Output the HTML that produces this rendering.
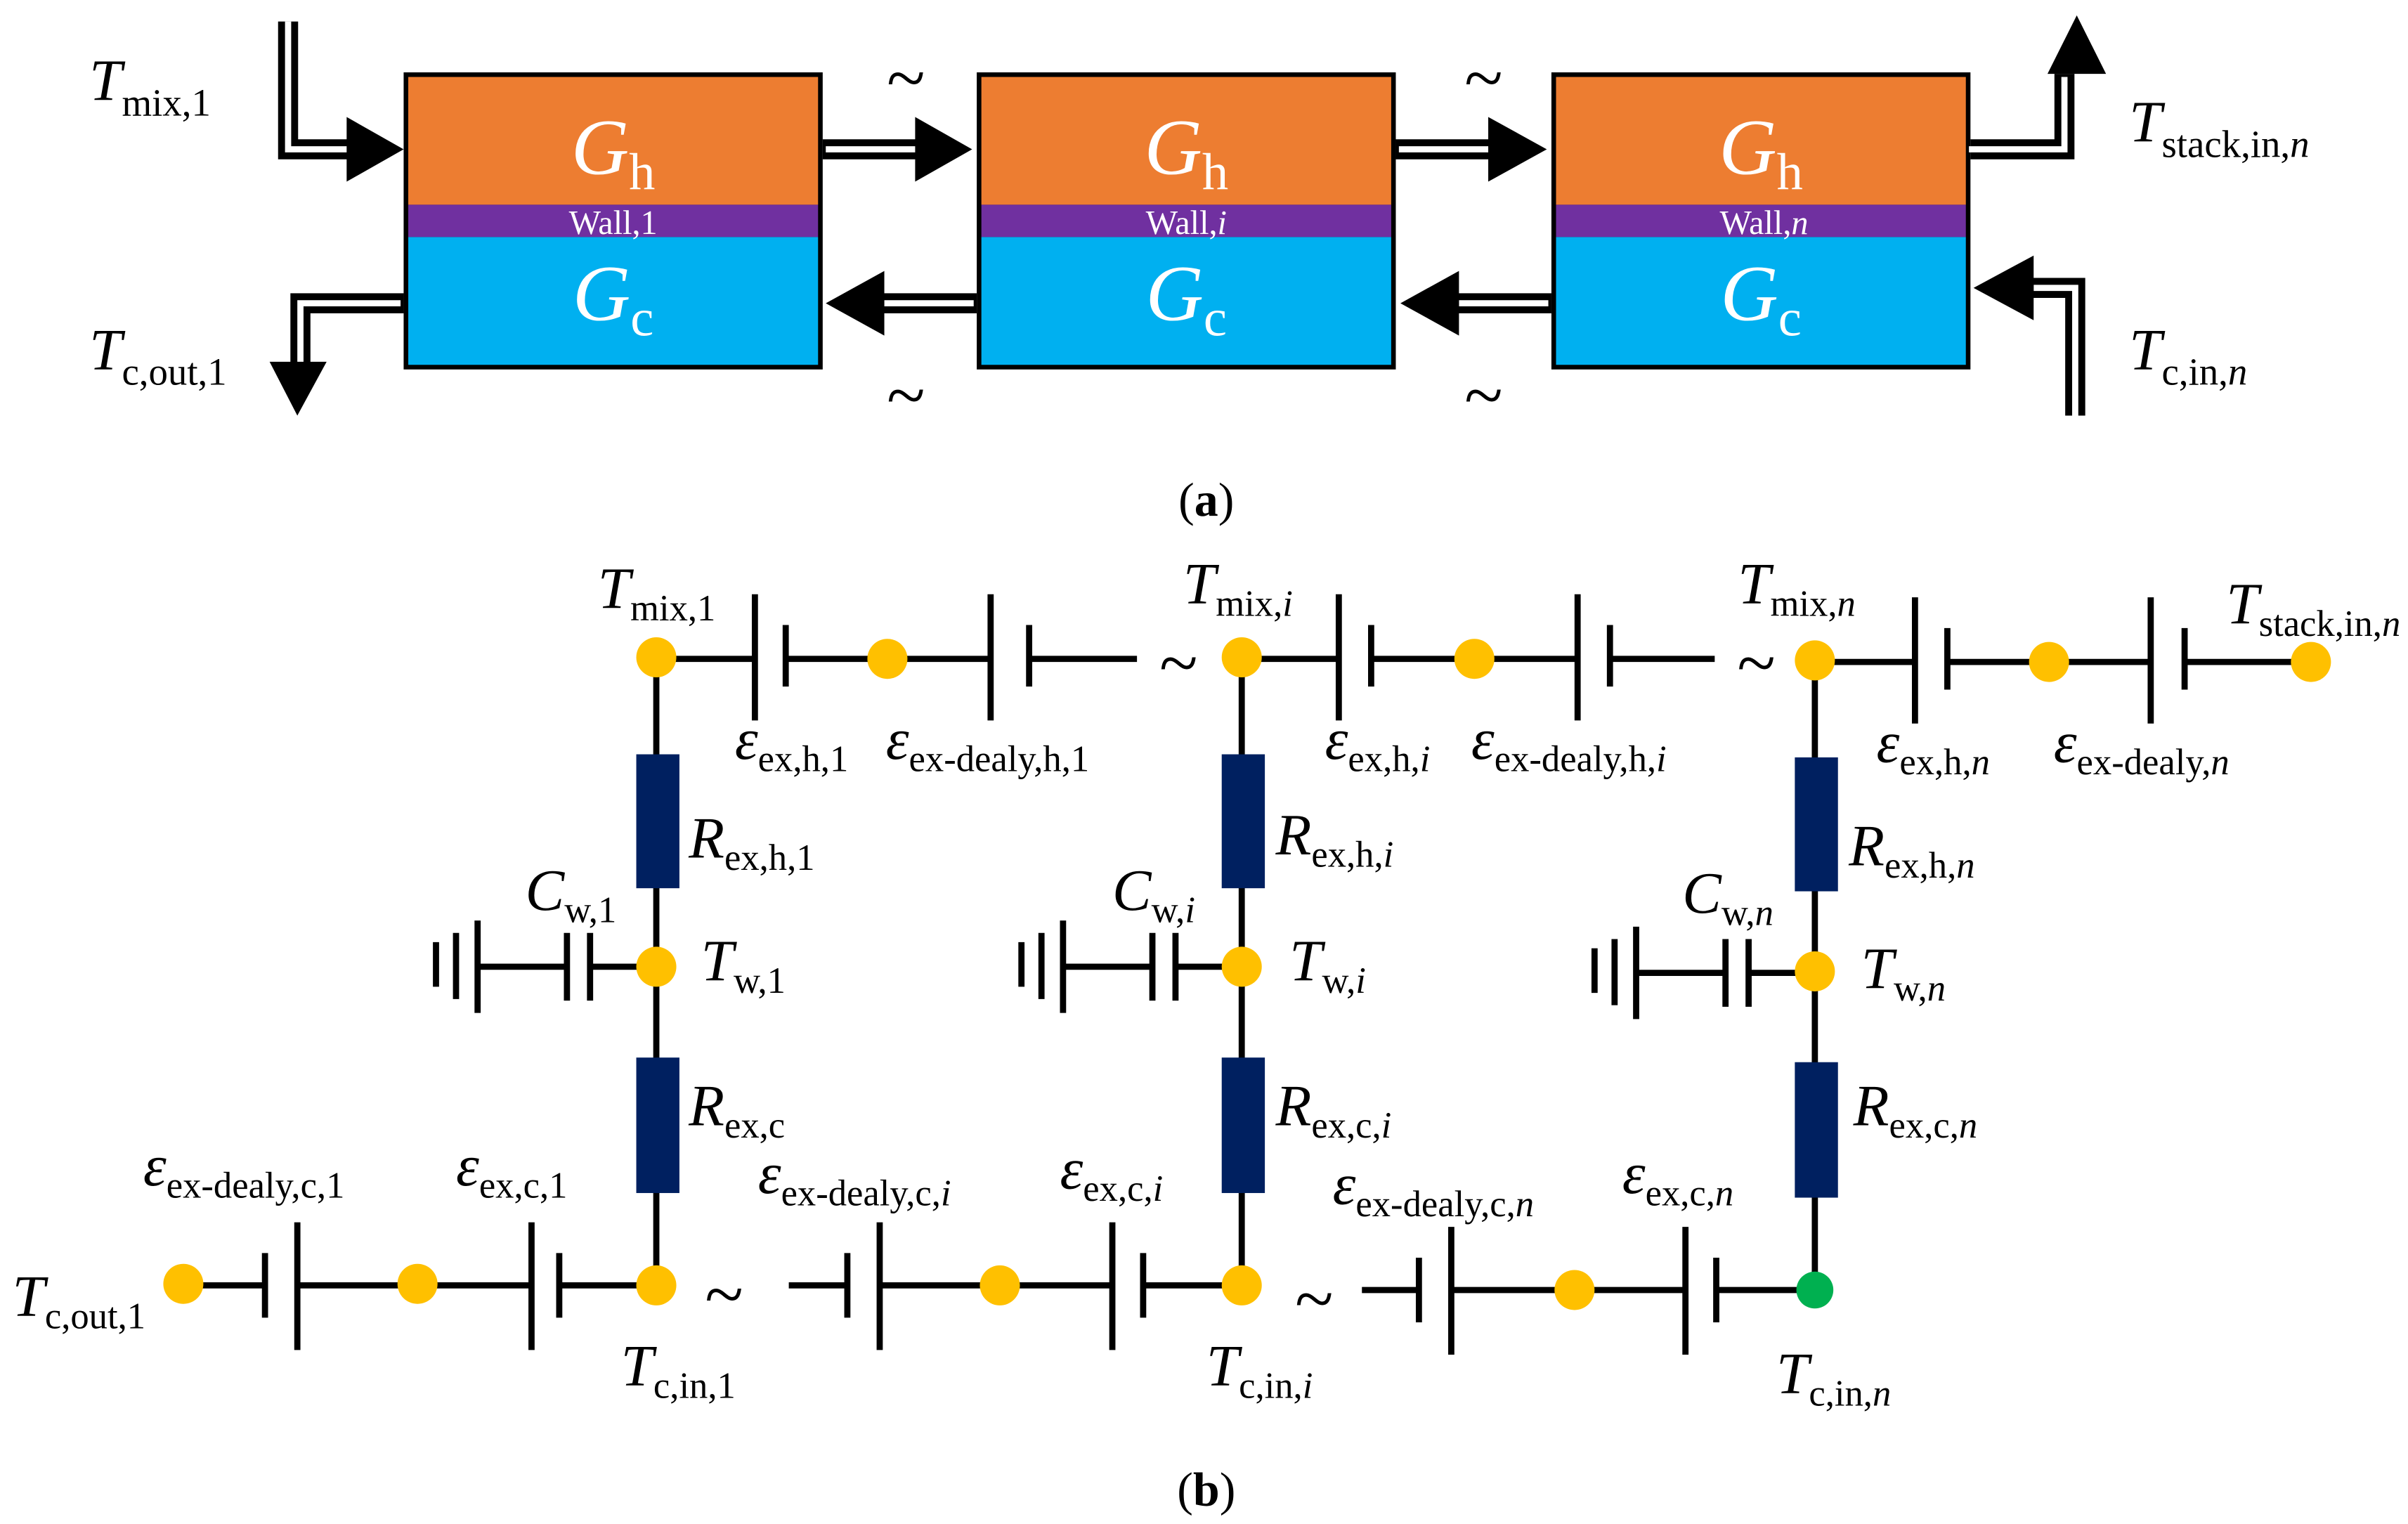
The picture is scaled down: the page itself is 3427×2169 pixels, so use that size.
<!DOCTYPE html>
<html><head><meta charset="utf-8"><style>
html,body{margin:0;padding:0;background:#fff;}
svg{display:block;}
svg text{font-family:"Liberation Serif","Times New Roman",serif;}
</style></head><body>
<svg width="3427" height="2169" viewBox="0 0 1563 990" preserveAspectRatio="none" xmlns="http://www.w3.org/2000/svg" font-family="Liberation Serif, serif">
<defs>
<g id="box">
<rect x="0" y="0" width="272" height="193" fill="#000"/>
<rect x="3" y="3" width="266" height="83" fill="#ED7D31"/>
<rect x="3" y="86" width="266" height="21" fill="#7030A0"/>
<rect x="3" y="107" width="266" height="83" fill="#00B0F0"/>
</g>
</defs>
<use href="#box" x="262" y="47"/>
<use href="#box" x="634" y="47"/>
<use href="#box" x="1007" y="47"/>
<g fill="#fff" font-style="italic" font-size="52" text-anchor="middle">
<text x="398" y="113">G<tspan font-style="normal" font-size="34" dy="10">h</tspan></text>
<text x="770" y="113">G<tspan font-style="normal" font-size="34" dy="10">h</tspan></text>
<text x="1143" y="113">G<tspan font-style="normal" font-size="34" dy="10">h</tspan></text>
<text x="398" y="208">G<tspan font-style="normal" font-size="34" dy="10">c</tspan></text>
<text x="770" y="208">G<tspan font-style="normal" font-size="34" dy="10">c</tspan></text>
<text x="1143" y="208">G<tspan font-style="normal" font-size="34" dy="10">c</tspan></text>
</g>
<g fill="#fff" font-size="22" text-anchor="middle">
<text x="398" y="152">Wall,1</text>
<text x="770" y="152">Wall,<tspan font-style="italic">i</tspan></text>
<text x="1145" y="152">Wall,<tspan font-style="italic">n</tspan></text>
</g>
<g fill="none" stroke-linejoin="miter">
<g stroke="#000" stroke-width="13">
<path d="M187 14 V97 H228"/>
<path d="M534 97 H597"/>
<path d="M906 97 H969"/>
<path d="M1279 97 H1340 V48"/>
<path d="M634 197 H572"/>
<path d="M1007 197 H945"/>
<path d="M262 197 H195 V238"/>
<path d="M1347 270 V187 H1318"/>
</g>
<g stroke="#fff" stroke-width="4">
<path d="M187 14 V97 H226"/>
<path d="M536 97 H595"/>
<path d="M908 97 H967"/>
<path d="M1278 97 H1340 V50"/>
<path d="M632 197 H574"/>
<path d="M1005 197 H947"/>
<path d="M260 197 H195 V236"/>
<path d="M1347 270 V187 H1320"/>
</g>
</g>
<g fill="#000">
<polygon points="225,76 262,97 225,118"/>
<polygon points="594,76 631,97 594,118"/>
<polygon points="966,76 1004,97 966,118"/>
<polygon points="1329,48 1367,48 1348,10"/>
<polygon points="574,176 536,197 574,218"/>
<polygon points="947,176 909,197 947,218"/>
<polygon points="175,235 212,235 193,270"/>
<polygon points="1320,166 1281,187 1320,208"/>
</g>
<g font-size="46" text-anchor="middle">
<text x="588" y="66">~</text><text x="963" y="66">~</text>
<text x="588" y="272">~</text><text x="963" y="272">~</text>
</g>
<g font-size="38" font-style="italic">
<text x="58" y="65">T<tspan font-style="normal" font-size="25" dy="10">mix,1</tspan></text>
<text x="58" y="240">T<tspan font-style="normal" font-size="25" dy="10">c,out,1</tspan></text>
<text x="1382" y="92">T<tspan font-style="normal" font-size="25" dy="10">stack,in,</tspan><tspan font-size="25">n</tspan></text>
<text x="1382" y="240">T<tspan font-style="normal" font-size="25" dy="10">c,in,</tspan><tspan font-size="25">n</tspan></text>
</g>
<text x="783" y="335" font-size="31" text-anchor="middle">(<tspan font-weight="bold">a</tspan>)</text>
<text x="783" y="978" font-size="31" text-anchor="middle">(<tspan font-weight="bold">b</tspan>)</text>

<g stroke="#000" stroke-width="4" fill="none">
<path d="M426 428 H490 M510 428 H643 M668 428 H738"/>
<path d="M806 428 H869 M890 428 H1024 M1045 428 H1113"/>
<path d="M1178 430 H1243 M1264 430 H1396 M1418 430 H1500"/>
<path d="M490 386 V468 M510 406 V446 M643 386 V468 M668 406 V446"/>
<path d="M869 386 V468 M890 406 V446 M1024 386 V468 M1045 406 V446"/>
<path d="M1243 388 V470 M1264 408 V448 M1396 388 V470 M1418 408 V448"/>
<path d="M426 428 V835 M806 428 V835 M1178 430 V838"/>
<path d="M310 628 H368 M383 628 H426 M368 606 V650 M383 606 V650 M310 598 V658 M296 606 V649 M283 612 V641"/>
<path d="M690 628 H748 M763 628 H806 M748 606 V650 M763 606 V650 M690 598 V658 M676 606 V649 M663 612 V641"/>
<path d="M1062 632 H1120 M1135 632 H1178 M1120 610 V654 M1135 610 V654 M1062 602 V662 M1048 610 V653 M1035 616 V645"/>
<path d="M119 835 H172 M193 835 H345 M363 835 H426"/>
<path d="M172 814 V856 M193 794 V877 M345 794 V877 M363 814 V856"/>
<path d="M512 835 H550 M571 835 H722 M742 835 H806"/>
<path d="M550 814 V856 M571 794 V877 M722 794 V877 M742 814 V856"/>
<path d="M884 838 H921 M942 838 H1094 M1114 838 H1178"/>
<path d="M921 817 V859 M942 797 V880 M1094 797 V880 M1114 817 V859"/>
</g>
<g fill="#002060">
<rect x="413" y="490" width="28" height="87"/>
<rect x="413" y="687" width="28" height="88"/>
<rect x="793" y="490" width="28" height="87"/>
<rect x="793" y="687" width="28" height="88"/>
<rect x="1165" y="492" width="28" height="87"/>
<rect x="1165" y="690" width="28" height="88"/>
</g>
<g fill="#FFC000">
<circle cx="426" cy="427" r="13"/><circle cx="576" cy="428" r="13"/>
<circle cx="806" cy="427" r="13"/><circle cx="957" cy="428" r="13"/>
<circle cx="1178" cy="429" r="13"/><circle cx="1330" cy="430" r="13"/><circle cx="1500" cy="430" r="13"/>
<circle cx="426" cy="628" r="13"/><circle cx="806" cy="628" r="13"/><circle cx="1178" cy="631" r="13"/>
<circle cx="119" cy="834" r="13"/><circle cx="271" cy="834" r="13"/><circle cx="426" cy="835" r="13"/>
<circle cx="649" cy="835" r="13"/><circle cx="806" cy="835" r="13"/><circle cx="1022" cy="838" r="13"/>
</g>
<circle cx="1178" cy="838" r="12" fill="#00B050"/>
<g font-size="46" text-anchor="middle">
<text x="765" y="446">~</text><text x="1140" y="446">~</text>
<text x="470" y="856">~</text><text x="853" y="859">~</text>
</g>
<g font-size="38" font-style="italic">
<text x="388" y="395">T<tspan font-style="normal" font-size="24" dy="8">mix,1</tspan></text>
<text x="768" y="392">T<tspan font-style="normal" font-size="24" dy="8">mix,</tspan><tspan font-size="24">i</tspan></text>
<text x="1128" y="392">T<tspan font-style="normal" font-size="24" dy="8">mix,</tspan><tspan font-size="24">n</tspan></text>
<text x="1445" y="405">T<tspan font-style="normal" font-size="24" dy="8">stack,in,</tspan><tspan font-size="24">n</tspan></text>
<text x="477" y="493">ε<tspan font-style="normal" font-size="24" dy="8">ex,h,1</tspan></text>
<text x="575" y="493">ε<tspan font-style="normal" font-size="24" dy="8">ex-dealy,h,1</tspan></text>
<text x="860" y="493">ε<tspan font-style="normal" font-size="24" dy="8">ex,h,</tspan><tspan font-size="24">i</tspan></text>
<text x="955" y="493">ε<tspan font-style="normal" font-size="24" dy="8">ex-dealy,h,</tspan><tspan font-size="24">i</tspan></text>
<text x="1218" y="495">ε<tspan font-style="normal" font-size="24" dy="8">ex,h,</tspan><tspan font-size="24">n</tspan></text>
<text x="1333" y="495">ε<tspan font-style="normal" font-size="24" dy="8">ex-dealy,</tspan><tspan font-size="24">n</tspan></text>
<text x="447" y="557">R<tspan font-style="normal" font-size="24" dy="8">ex,h,1</tspan></text>
<text x="828" y="555">R<tspan font-style="normal" font-size="24" dy="8">ex,h,</tspan><tspan font-size="24">i</tspan></text>
<text x="1200" y="562">R<tspan font-style="normal" font-size="24" dy="8">ex,h,</tspan><tspan font-size="24">n</tspan></text>
<text x="341" y="591">C<tspan font-style="normal" font-size="24" dy="8">w,1</tspan></text>
<text x="722" y="591">C<tspan font-style="normal" font-size="24" dy="8">w,</tspan><tspan font-size="24">i</tspan></text>
<text x="1092" y="593">C<tspan font-style="normal" font-size="24" dy="8">w,</tspan><tspan font-size="24">n</tspan></text>
<text x="455" y="637">T<tspan font-style="normal" font-size="24" dy="8">w,1</tspan></text>
<text x="837" y="637">T<tspan font-style="normal" font-size="24" dy="8">w,</tspan><tspan font-size="24">i</tspan></text>
<text x="1208" y="642">T<tspan font-style="normal" font-size="24" dy="8">w,</tspan><tspan font-size="24">n</tspan></text>
<text x="447" y="731">R<tspan font-style="normal" font-size="24" dy="8">ex,c</tspan></text>
<text x="828" y="731">R<tspan font-style="normal" font-size="24" dy="8">ex,c,</tspan><tspan font-size="24">i</tspan></text>
<text x="1203" y="731">R<tspan font-style="normal" font-size="24" dy="8">ex,c,</tspan><tspan font-size="24">n</tspan></text>
<text x="93" y="770">ε<tspan font-style="normal" font-size="24" dy="8">ex-dealy,c,1</tspan></text>
<text x="296" y="770">ε<tspan font-style="normal" font-size="24" dy="8">ex,c,1</tspan></text>
<text x="492" y="775">ε<tspan font-style="normal" font-size="24" dy="8">ex-dealy,c,</tspan><tspan font-size="24">i</tspan></text>
<text x="688" y="772">ε<tspan font-style="normal" font-size="24" dy="8">ex,c,</tspan><tspan font-size="24">i</tspan></text>
<text x="865" y="782">ε<tspan font-style="normal" font-size="24" dy="8">ex-dealy,c,</tspan><tspan font-size="24">n</tspan></text>
<text x="1053" y="775">ε<tspan font-style="normal" font-size="24" dy="8">ex,c,</tspan><tspan font-size="24">n</tspan></text>
<text x="8" y="855">T<tspan font-style="normal" font-size="24" dy="8">c,out,1</tspan></text>
<text x="403" y="900">T<tspan font-style="normal" font-size="24" dy="8">c,in,1</tspan></text>
<text x="783" y="900">T<tspan font-style="normal" font-size="24" dy="8">c,in,</tspan><tspan font-size="24">i</tspan></text>
<text x="1153" y="905">T<tspan font-style="normal" font-size="24" dy="8">c,in,</tspan><tspan font-size="24">n</tspan></text>
</g>
</svg>
</body></html>
